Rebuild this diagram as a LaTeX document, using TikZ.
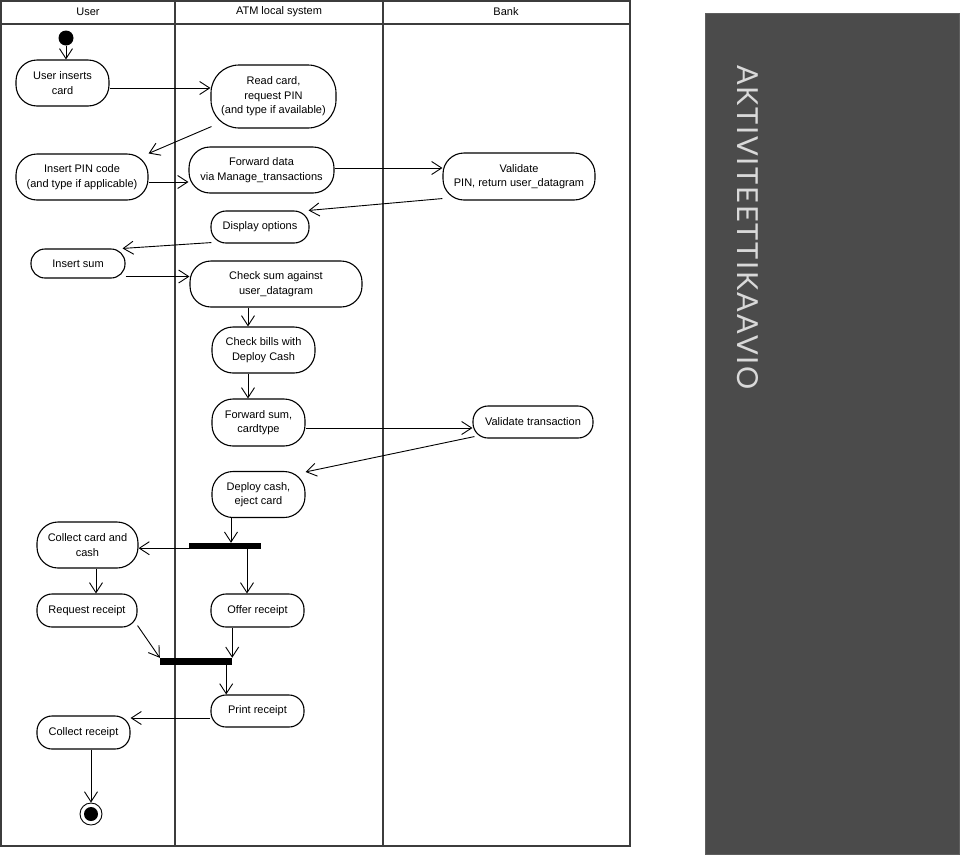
\documentclass[tikz,border=0pt]{standalone}
\usepackage{fontspec}
\setmainfont{Liberation Sans}
\newfontfamily\titlefont{Lato}
\usetikzlibrary{arrows.meta,calc}
\definecolor{panel}{HTML}{4B4B4B}
\definecolor{panelline}{HTML}{5E5E5E}
\definecolor{paneltext}{HTML}{D9D9D9}
\definecolor{frameline}{HTML}{3C3C3C}
\begin{document}
\begin{tikzpicture}[x=1pt,y=-1pt,
  act/.style={draw=black, line width=1.1pt, rounded corners=21pt, align=center,
    inner sep=1pt, font=\fontsize{11}{14.5}\selectfont},
  actlow/.style={act, rounded corners=15pt},
  arr/.style={-{Straight Barb[length=10pt,width=13pt]}, line width=0.9pt},
  lane/.style={draw=frameline, line width=1.4pt},
  bar/.style={fill=black, draw=none, inner sep=0pt},
  hdr/.style={font=\fontsize{11}{13}\selectfont, inner sep=0pt},
]
\useasboundingbox (0,0) rectangle (960,857);

% swimlane frame
\draw[lane] (1,1) rectangle (630,846);
\draw[lane] (1,24) -- (630,24);
\draw[lane] (175,1) -- (175,846);
\draw[lane] (383,1) -- (383,846);
\node[hdr] (hu) at (88,12) {User};
\node[hdr] (ha) at (279,12) {ATM local system};
\node[hdr] (hb) at (506,12) {Bank};

% nodes
\node[circle, fill=black, minimum size=15pt, inner sep=0pt] (start) at (66,38) {};
\node[act, minimum width=93pt, minimum height=46pt] (uic) at (62.5,83) {User inserts\\card};
\node[act, rounded corners=28pt, minimum width=125pt, minimum height=63pt] (read) at (273.5,96.5) {Read card,\\request PIN\\(and type if available)};
\node[act, minimum width=132pt, minimum height=46pt] (pin) at (82,177) {Insert PIN code\\(and type if applicable)};
\node[act, minimum width=145pt, minimum height=46pt] (fwd) at (261.5,170) {Forward data\\via Manage\_transactions};
\node[act, minimum width=152pt, minimum height=47pt] (val) at (519,176.5) {Validate\\PIN, return user\_datagram};
\node[actlow, minimum width=98pt, minimum height=32pt] (disp) at (260,227) {Display options};
\node[actlow, rounded corners=14pt, minimum width=94pt, minimum height=29pt] (isum) at (78,263.5) {Insert sum};
\node[act, minimum width=172pt, minimum height=46pt] (chk) at (276,284) {Check sum against\\user\_datagram};
\node[act, minimum width=103pt, minimum height=46pt] (bills) at (263.5,350) {Check bills with\\Deploy Cash};
\node[act, minimum width=93pt, minimum height=47pt] (fsum) at (258.5,422.5) {Forward sum,\\cardtype};
\node[actlow, minimum width=120pt, minimum height=32pt] (vtr) at (533,422) {Validate transaction};
\node[act, minimum width=93pt, minimum height=46pt] (dep) at (258.5,494.5) {Deploy cash,\\eject card};
\node[bar, minimum width=72pt, minimum height=6pt] (fork1) at (225,546) {};
\node[act, minimum width=101pt, minimum height=46pt] (ccc) at (87.5,545) {Collect card and\\cash};
\node[actlow, minimum width=100pt, minimum height=33pt] (req) at (87,610.5) {Request receipt};
\node[actlow, minimum width=93pt, minimum height=33pt] (offer) at (257.5,610.5) {Offer receipt};
\node[bar, minimum width=72pt, minimum height=7pt] (join) at (196,661.5) {};
\node[actlow, minimum width=93pt, minimum height=32pt] (print) at (257.5,711) {Print receipt};
\node[actlow, minimum width=93pt, minimum height=33pt] (crec) at (83.5,732.5) {Collect receipt};
\node[circle, draw=black, line width=0.9pt, minimum size=22pt, inner sep=0pt] (endn) at (91,814) {};
\fill[black] (endn.center) circle (7pt);

% connectors
\draw[arr] (start.south) -- (start.south |- uic.north);
\draw[arr] ([yshift=-5pt]uic.east) -- ([yshift=-5pt]uic.east -| read.west);
\draw[arr] ([xshift=1pt,yshift=2pt]read.south west) -- (pin.north east);
\draw[arr] ([yshift=-5pt]pin.east) -- ([yshift=-5pt]pin.east -| fwd.west);
\draw[arr] ([yshift=2pt]fwd.east) -- ([yshift=2pt]fwd.east -| val.west);
\draw[arr] ([yshift=2pt]val.south west) -- ([xshift=-1pt]disp.north east);
\draw[arr] ([xshift=1pt,yshift=1pt]disp.south west) -- ([xshift=-3pt]isum.north east);
\draw[arr] ([yshift=-13pt]isum.east) -- ([yshift=-13pt]isum.east -| chk.west);
\draw[arr] ([xshift=-15.5pt]bills.north |- chk.south) -- ([xshift=-15.5pt]bills.north);
\draw[arr] ([xshift=-15.5pt]bills.south) -- ([xshift=-15.5pt]bills.south |- fsum.north);
\draw[arr] ([yshift=-5.5pt]fsum.east) -- ([yshift=-5.5pt]fsum.east -| vtr.west);
\draw[arr] ([xshift=2pt,yshift=2pt]vtr.south west) -- ([yshift=-1pt]dep.north east);
\draw[arr] ([xshift=-27.5pt]dep.south) -- ([xshift=-27.5pt]dep.south |- fork1.north);
\draw[arr] ([xshift=22pt]fork1.south) -- ([xshift=22pt]fork1.south |- offer.north);
\draw[arr] ([yshift=1pt]fork1.south west) -- ([yshift=1pt]fork1.south west -| ccc.east);
\draw[arr] ([xshift=8.5pt]ccc.south) -- ([xshift=8.5pt]ccc.south |- req.north);
\draw[arr] ([yshift=2pt]req.south east) -- (join.north west);
\draw[arr] (join.north east |- offer.south) -- (join.north east);
\draw[arr] ([xshift=-6pt]join.south east) -- ([xshift=-6pt]join.south east |- print.north);
\draw[arr] ([yshift=-7pt]print.west) -- ([yshift=-7pt]print.west -| crec.east);
\draw[arr] ([xshift=7.5pt]crec.south) -- ([xshift=7.5pt]crec.south |- endn.north);

% side panel
\draw[fill=panel, draw=panelline, line width=1pt] (705,13) rectangle (959,854);
\node[rotate=-90, text=paneltext, inner sep=0pt, font=\titlefont\fontsize{29}{29}\selectfont] (title) at (747.5,227.5)
  {\makebox[325pt][s]{A\hfil K\hfil T\hfil I\hfil V\hfil I\hfil T\hfil E\hfil E\hfil T\hfil T\hfil I\hfil K\hfil A\hfil A\hfil V\hfil I\hfil O}};
\end{tikzpicture}
\end{document}
